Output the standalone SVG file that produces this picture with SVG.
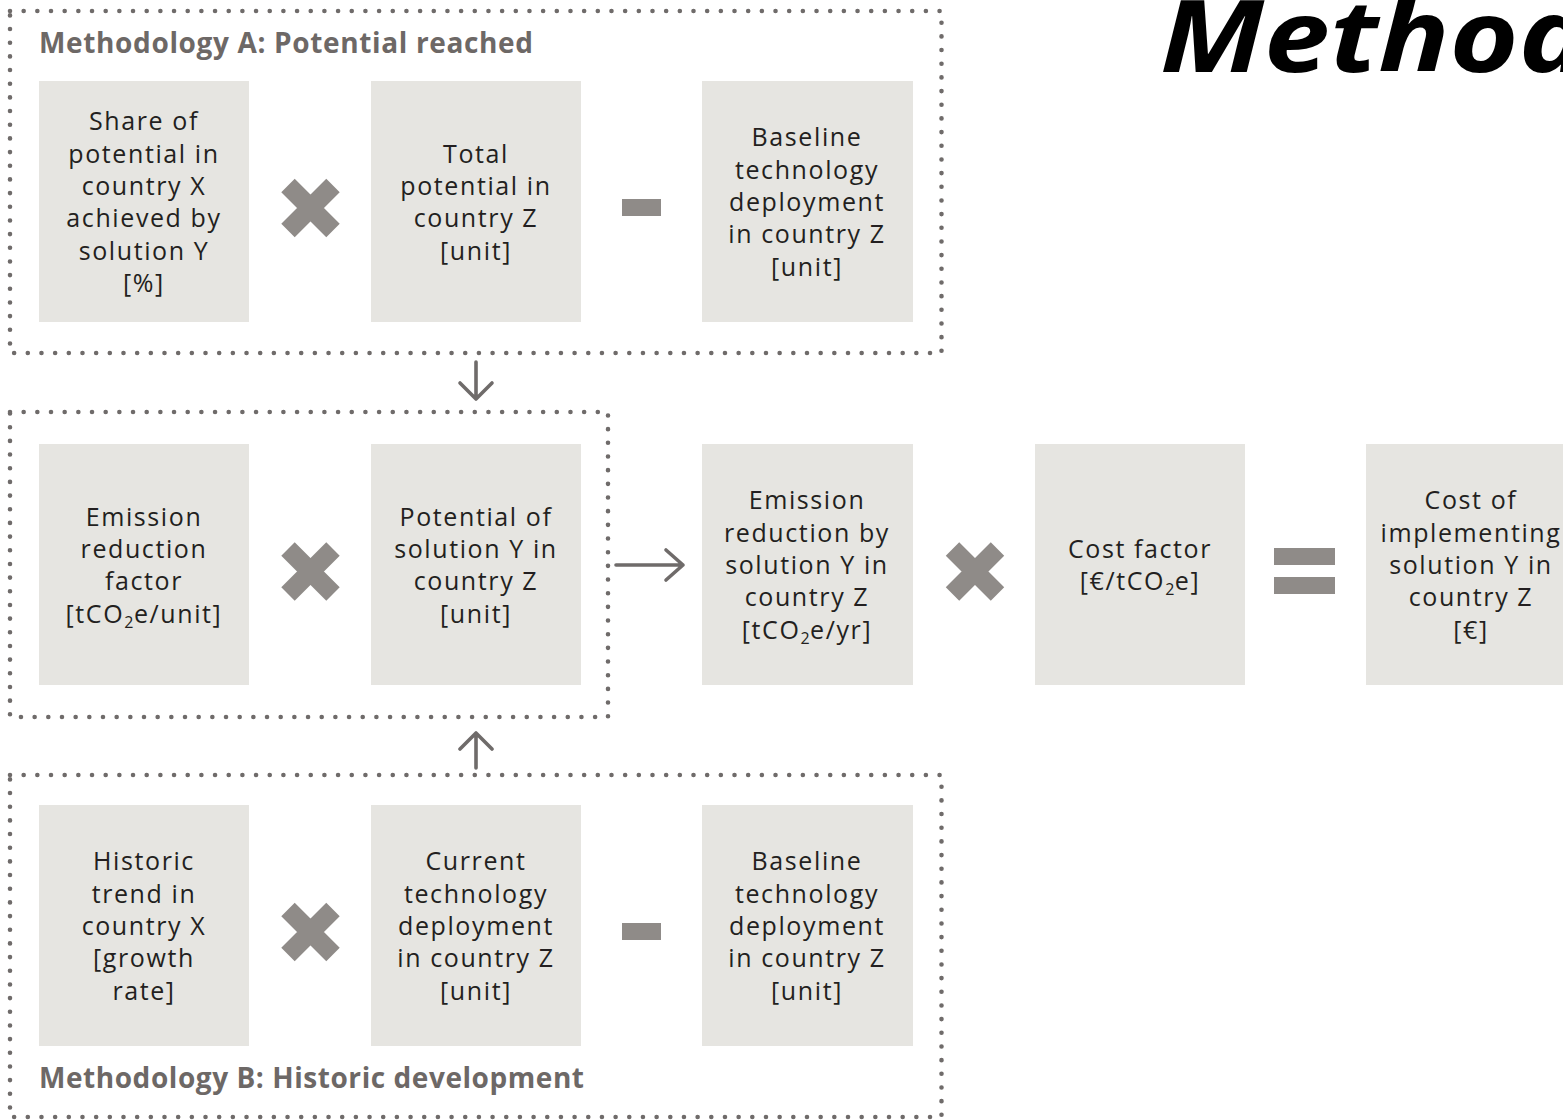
<svg xmlns="http://www.w3.org/2000/svg" width="1563" height="1120" viewBox="0 0 1563 1120">
<style>
.bg{fill:#ffffff}
.box{fill:#e6e5e1}
.lbl{font-family:"Open Sans","Liberation Sans",sans-serif;font-size:25px;letter-spacing:1.6px;fill:#231f20;text-anchor:middle}
.sub{font-size:16px;letter-spacing:0.5px}
.head{font-family:"Open Sans","Liberation Sans",sans-serif;font-size:28px;font-weight:700;fill:#6d6866}
.frame{fill:none;stroke:#6f6b6a;stroke-width:4.6;stroke-linecap:round;stroke-dasharray:0 13.67}
.op{fill:#8f8b88}
.times{fill:none;stroke:#8f8b88;stroke-width:19;stroke-linecap:butt}
.conn{fill:none;stroke:#6f6b6a;stroke-width:3.6;stroke-linecap:round;stroke-linejoin:round}
.title{font-family:"Open Sans","Liberation Sans",sans-serif;font-size:101px;font-weight:700;font-style:italic;fill:#000000}
</style>
<defs>
<g id="x-op"><path class="times" d="M-22.5,-22.5 L22.5,22.5 M22.5,-22.5 L-22.5,22.5"/></g>
</defs>
<rect class="bg" x="0" y="0" width="1563" height="1120"/>

<text class="title" transform="translate(1160,72) scale(1.17,1)" x="0" y="0">Method</text>

<g id="frame-a">
<rect class="frame" x="10" y="11" width="931.5" height="342"/>
<text class="head" x="39" y="53" textLength="494" lengthAdjust="spacing">Methodology A: Potential reached</text>
</g>
<g id="frame-mid">
<rect class="frame" x="10" y="412" width="598" height="305"/>
</g>
<g id="frame-b">
<rect class="frame" x="10" y="775" width="931.5" height="342"/>
<text class="head" x="39" y="1088" textLength="545" lengthAdjust="spacing">Methodology B: Historic development</text>
</g>

<g id="share-potential">
<rect class="box" x="39" y="81" width="210" height="241"/>
<text class="lbl"><tspan x="144" y="130.3">Share of</tspan><tspan x="144" dy="32.3">potential in</tspan><tspan x="144" dy="32.3">country X</tspan><tspan x="144" dy="32.3">achieved by</tspan><tspan x="144" dy="32.3">solution Y</tspan><tspan x="144" dy="32.3">[%]</tspan></text>
</g>
<g id="total-potential">
<rect class="box" x="371" y="81" width="210" height="241"/>
<text class="lbl"><tspan x="476" y="162.6">Total</tspan><tspan x="476" dy="32.3">potential in</tspan><tspan x="476" dy="32.3">country Z</tspan><tspan x="476" dy="32.3">[unit]</tspan></text>
</g>
<g id="baseline-a">
<rect class="box" x="702" y="81" width="211" height="241"/>
<text class="lbl"><tspan x="807" y="146.4">Baseline</tspan><tspan x="807" dy="32.3">technology</tspan><tspan x="807" dy="32.3">deployment</tspan><tspan x="807" dy="32.3">in country Z</tspan><tspan x="807" dy="32.3">[unit]</tspan></text>
</g>

<g id="emission-factor">
<rect class="box" x="39" y="444" width="210" height="241"/>
<text class="lbl"><tspan x="144" y="525.6">Emission</tspan><tspan x="144" dy="32.3">reduction</tspan><tspan x="144" dy="32.3">factor</tspan><tspan x="144" dy="32.3">[tCO<tspan class="sub" dy="5">2</tspan><tspan dy="-5">e/unit]</tspan></tspan></text>
</g>
<g id="potential-solution">
<rect class="box" x="371" y="444" width="210" height="241"/>
<text class="lbl"><tspan x="476" y="525.6">Potential of</tspan><tspan x="476" dy="32.3">solution Y in</tspan><tspan x="476" dy="32.3">country Z</tspan><tspan x="476" dy="32.3">[unit]</tspan></text>
</g>
<g id="emission-reduction">
<rect class="box" x="702" y="444" width="211" height="241"/>
<text class="lbl"><tspan x="807" y="509.4">Emission</tspan><tspan x="807" dy="32.3">reduction by</tspan><tspan x="807" dy="32.3">solution Y in</tspan><tspan x="807" dy="32.3">country Z</tspan><tspan x="807" dy="32.3">[tCO<tspan class="sub" dy="5">2</tspan><tspan dy="-5">e/yr]</tspan></tspan></text>
</g>
<g id="cost-factor">
<rect class="box" x="1035" y="444" width="210" height="241"/>
<text class="lbl"><tspan x="1140" y="557.9">Cost factor</tspan><tspan x="1140" dy="32.3">[€/tCO<tspan class="sub" dy="5">2</tspan><tspan dy="-5">e]</tspan></tspan></text>
</g>
<g id="cost-implementing">
<rect class="box" x="1366" y="444" width="210" height="241"/>
<text class="lbl"><tspan x="1471" y="509.4">Cost of</tspan><tspan x="1471" dy="32.3">implementing</tspan><tspan x="1471" dy="32.3">solution Y in</tspan><tspan x="1471" dy="32.3">country Z</tspan><tspan x="1471" dy="32.3">[€]</tspan></text>
</g>

<g id="historic-trend">
<rect class="box" x="39" y="805" width="210" height="241"/>
<text class="lbl"><tspan x="144" y="870.4">Historic</tspan><tspan x="144" dy="32.3">trend in</tspan><tspan x="144" dy="32.3">country X</tspan><tspan x="144" dy="32.3">[growth</tspan><tspan x="144" dy="32.3">rate]</tspan></text>
</g>
<g id="current-deployment">
<rect class="box" x="371" y="805" width="210" height="241"/>
<text class="lbl"><tspan x="476" y="870.4">Current</tspan><tspan x="476" dy="32.3">technology</tspan><tspan x="476" dy="32.3">deployment</tspan><tspan x="476" dy="32.3">in country Z</tspan><tspan x="476" dy="32.3">[unit]</tspan></text>
</g>
<g id="baseline-b">
<rect class="box" x="702" y="805" width="211" height="241"/>
<text class="lbl"><tspan x="807" y="870.4">Baseline</tspan><tspan x="807" dy="32.3">technology</tspan><tspan x="807" dy="32.3">deployment</tspan><tspan x="807" dy="32.3">in country Z</tspan><tspan x="807" dy="32.3">[unit]</tspan></text>
</g>

<g id="operators">
<use href="#x-op" x="310.5" y="208"/>
<rect class="op" x="622" y="199" width="39" height="17"/>
<use href="#x-op" x="310.5" y="571.5"/>
<use href="#x-op" x="975" y="571.5"/>
<rect class="op" x="1274" y="548" width="61" height="17"/>
<rect class="op" x="1274" y="577" width="61" height="17"/>
<use href="#x-op" x="310.5" y="932"/>
<rect class="op" x="622" y="923" width="39" height="17"/>
</g>

<g id="connectors">
<path class="conn" d="M476,362 L476,399 M460,383 L476,399 L492,383"/>
<path class="conn" d="M476,768 L476,733 M460,749 L476,733 L492,749"/>
<path class="conn" d="M616,565 L683,565 M666,550 L683,565 L666,580"/>
</g>
</svg>
